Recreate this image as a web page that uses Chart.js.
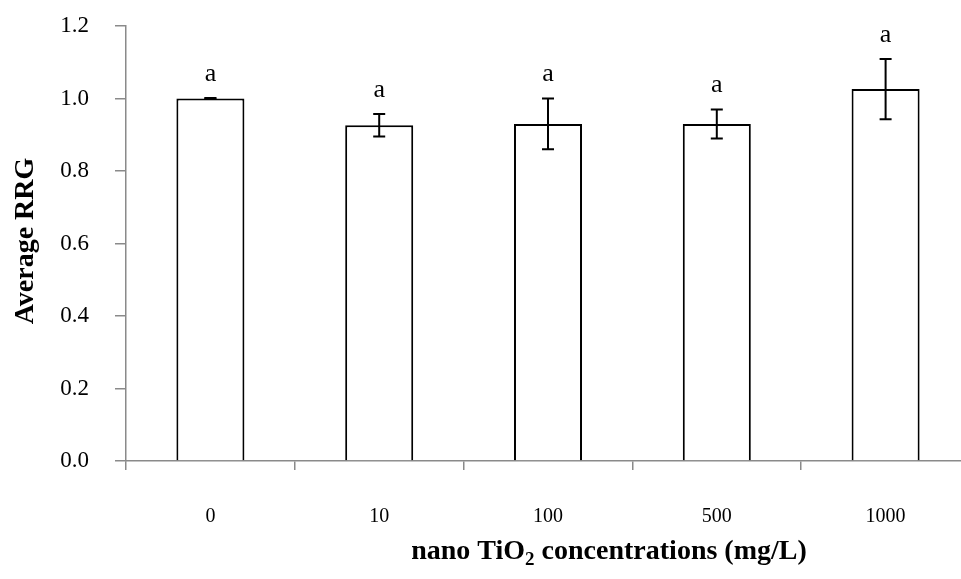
<!DOCTYPE html>
<html>
<head>
<meta charset="utf-8">
<script src="https://cdn.jsdelivr.net/npm/chart.js@4"></script>
<style>
html,body{margin:0;padding:0;background:#fff;overflow:hidden;}
#wrap{width:972px;height:579px;position:relative;}
</style>
</head>
<body>
<div id="wrap"><canvas id="c"></canvas></div>
<script>
const categories = ["0", "10", "100", "500", "1000"];
const meanRRG = [1.000, 0.926, 0.930, 0.930, 1.026];
const errRRG = [0.000, 0.031, 0.070, 0.040, 0.083];
const letters = ["a", "a", "a", "a", "a"];
const yTicks = [0, 0.2, 0.4, 0.6, 0.8, 1.0, 1.2];

const SERIF = "'Liberation Serif', 'Times New Roman', serif";
const AXIS_GREY = "#8a8a8a";

const overlay = {
  id: "overlay",
  afterDatasetsDraw(chart) {
    const ctx = chart.ctx;
    const meta = chart.getDatasetMeta(0);
    const y = chart.scales.y;
    ctx.save();
    ctx.strokeStyle = "#000";
    ctx.lineWidth = 2;
    meta.data.forEach((bar, i) => {
      const x = bar.x;
      const top = y.getPixelForValue(meanRRG[i] + errRRG[i]);
      const bot = y.getPixelForValue(meanRRG[i] - errRRG[i]);
      ctx.beginPath();
      ctx.moveTo(x, top); ctx.lineTo(x, bot);
      ctx.moveTo(x - 6, top); ctx.lineTo(x + 6, top);
      ctx.moveTo(x - 6, bot); ctx.lineTo(x + 6, bot);
      ctx.stroke();
      if (errRRG[i] === 0) {
        ctx.lineWidth = 3;
        ctx.beginPath();
        ctx.moveTo(x - 6, top); ctx.lineTo(x + 6, top);
        ctx.stroke();
        ctx.lineWidth = 2;
      }
      ctx.fillStyle = "#000";
      ctx.font = "26px " + SERIF;
      ctx.textAlign = "center";
      ctx.textBaseline = "middle";
      ctx.fillText(letters[i], x, top - 24);
    });
    ctx.restore();
  },
  afterDraw(chart) {
    const ctx = chart.ctx;
    ctx.save();
    ctx.fillStyle = "#000";
    ctx.font = "bold 28px " + SERIF;
    ctx.translate(26, 241);
    ctx.rotate(-Math.PI / 2);
    ctx.textAlign = "center";
    ctx.textBaseline = "middle";
    ctx.fillText("Average RRG", 0, 0);
    ctx.restore();
    ctx.save();
    ctx.fillStyle = "#000";
    const big = "bold 28px " + SERIF;
    const small = "bold 19px " + SERIF;
    const p1 = "nano TiO", p2 = "2", p3 = " concentrations (mg/L)";
    ctx.font = big; const w1 = ctx.measureText(p1).width, w3 = ctx.measureText(p3).width;
    ctx.font = small; const w2 = ctx.measureText(p2).width;
    const total = w1 + w2 + w3;
    let x0 = 609 - total / 2;
    const base = 559;
    ctx.textAlign = "left";
    ctx.textBaseline = "alphabetic";
    ctx.font = big; ctx.fillText(p1, x0, base);
    ctx.font = small; ctx.fillText(p2, x0 + w1, base + 6);
    ctx.font = big; ctx.fillText(p3, x0 + w1 + w2, base);
    ctx.restore();
  }
};

new Chart(document.getElementById("c"), {
  type: "bar",
  data: {
    labels: categories,
    datasets: [{
      data: meanRRG,
      backgroundColor: "#ffffff",
      borderColor: "#000000",
      borderWidth: 2,
      categoryPercentage: 1.0,
      barPercentage: 0.403
    }]
  },
  options: {
    responsive: true,
    maintainAspectRatio: false,
    animation: false,
    layout: { padding: { top: 26, right: 2, left: 0, bottom: 0 } },
    plugins: { legend: { display: false }, tooltip: { enabled: false } },
    scales: {
      x: {
        grid: { display: true, drawOnChartArea: false, offset: true, color: AXIS_GREY, lineWidth: 1.5, tickLength: 9 },
        border: { display: true, color: AXIS_GREY, width: 1.5 },
        ticks: { color: "#000", font: { family: SERIF, size: 20 }, padding: 35 },
        afterFit(s) { s.height = 118; s.paddingLeft = 0; s.paddingRight = 0; }
      },
      y: {
        min: 0, max: 1.2,
        afterBuildTicks(s) { s.ticks = yTicks.map(v => ({ value: v })); },
        grid: { display: true, drawOnChartArea: false, color: AXIS_GREY, lineWidth: 1.5, tickLength: 11 },
        border: { display: true, color: AXIS_GREY, width: 1.5 },
        ticks: { color: "#000", font: { family: SERIF, size: 23 }, padding: 26, callback: v => Number(v).toFixed(1) },
        afterFit(s) { s.width = 126; s.paddingTop = 0; s.paddingBottom = 0; }
      }
    }
  },
  plugins: [overlay]
});
</script>
</body>
</html>
